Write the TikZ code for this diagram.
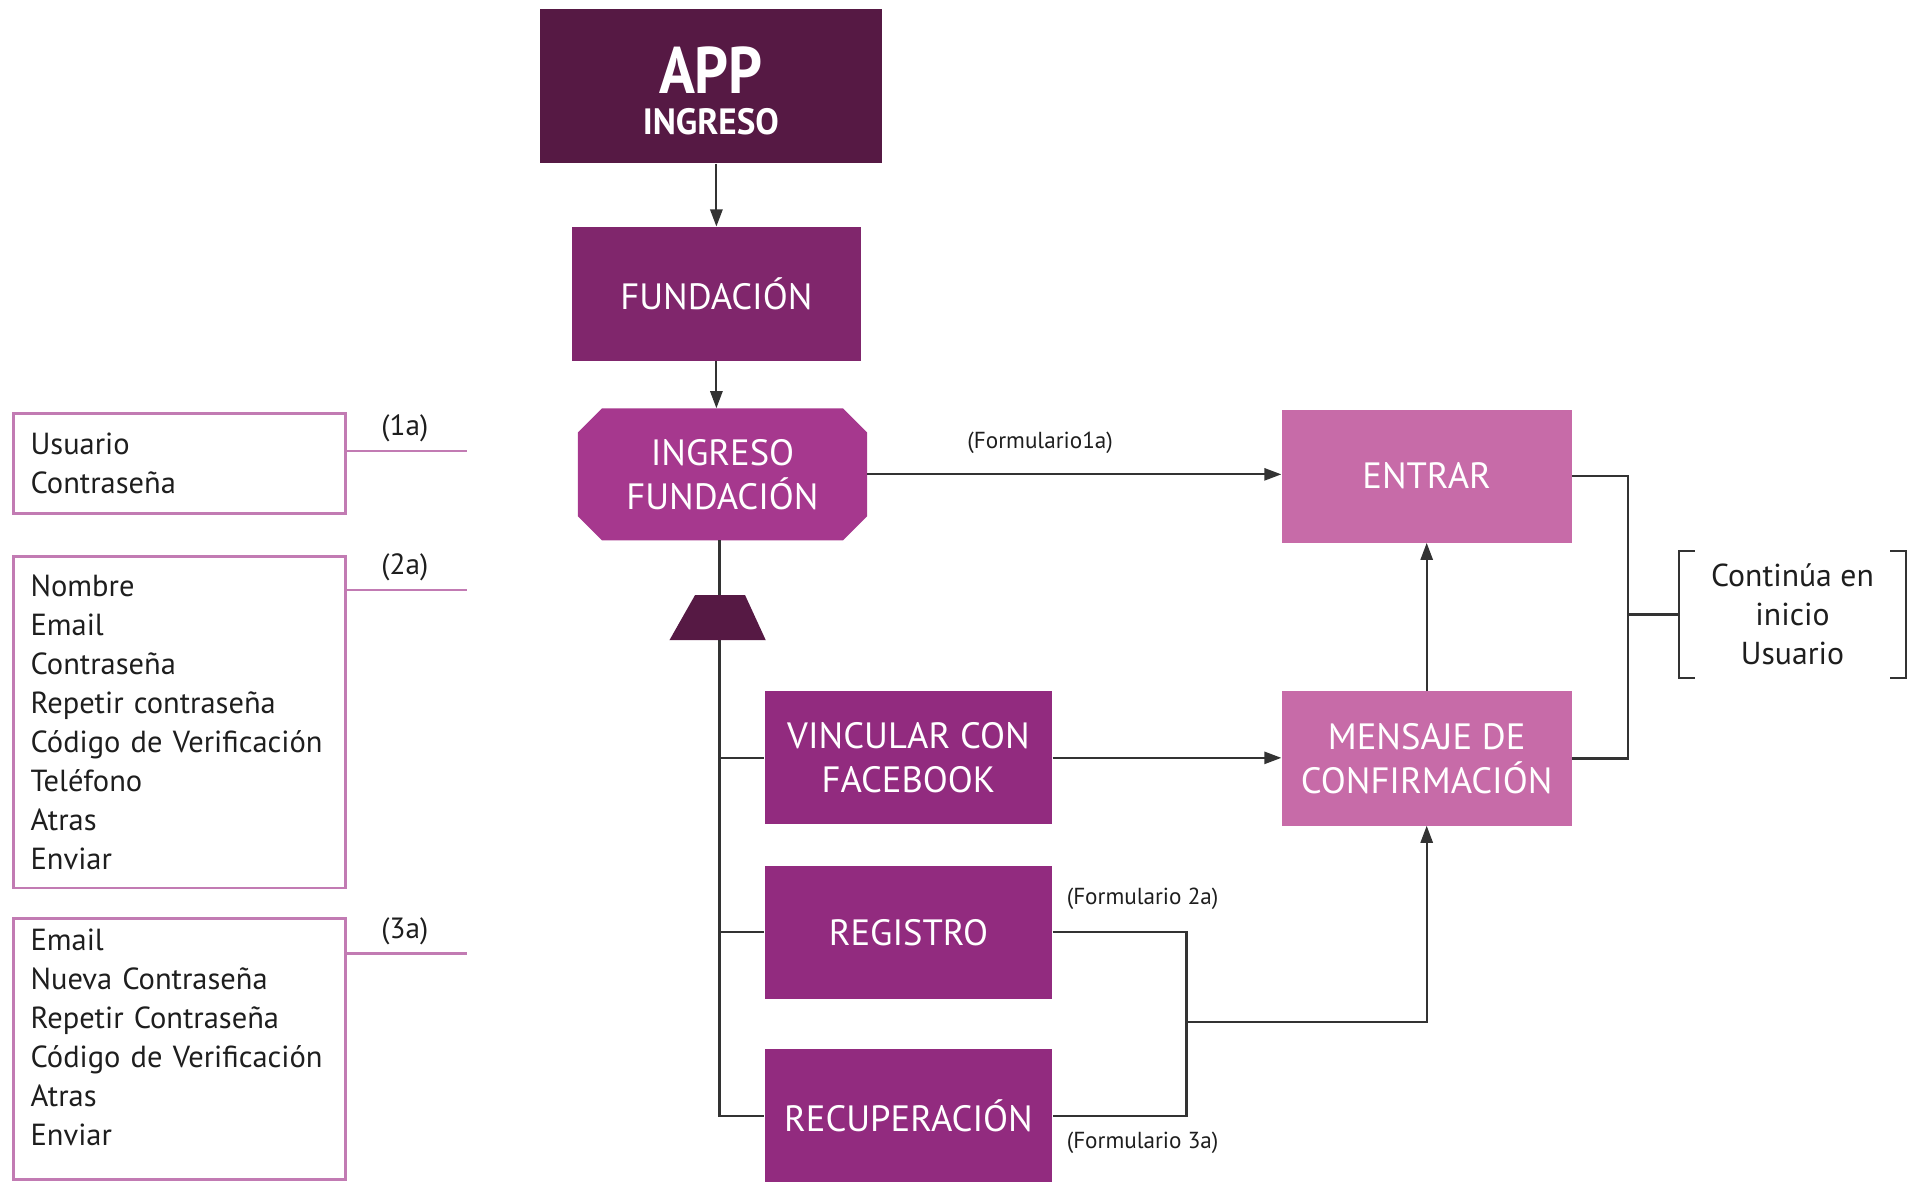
\documentclass[tikz,border=0pt]{standalone}
\usepackage{fontspec}
\setmainfont{PT Sans}
\usetikzlibrary{arrows.meta,calc}
\pgfdeclarelayer{background}
\pgfsetlayers{background,main}

\definecolor{plumdark}{HTML}{561944}
\definecolor{plumfund}{HTML}{80266C}
\definecolor{plumoct}{HTML}{A6388E}
\definecolor{plummid}{HTML}{922B7F}
\definecolor{plumlight}{HTML}{C76BA8}
\definecolor{formpink}{HTML}{C27BB3}
\definecolor{linegray}{HTML}{333333}
\definecolor{inkdark}{HTML}{1E1E1E}

\begin{document}
\begin{tikzpicture}[x=1pt,y=-1pt,
  box/.style={rectangle, inner sep=0pt, text=white, align=center,
    font=\fontsize{30}{36}\selectfont},
  flowbox/.style={box, minimum width=237pt, minimum height=109pt},
  conn/.style={draw=linegray, line width=1.8pt},
  arr/.style={conn, -{Triangle[length=14pt,width=10pt]}},
  formbox/.style={draw=formpink, line width=2.2pt, anchor=north west,
    inner xsep=14pt, inner ysep=0pt, text width=244pt, align=left,
    text=inkdark, font=\fontsize{25}{32}\selectfont},
  leader/.style={draw=formpink, line width=2pt},
  tag/.style={text=inkdark, font=\fontsize{24}{24}\selectfont},
  formlabel/.style={text=inkdark, font=\fontsize{19}{19}\selectfont}
]
\useasboundingbox (0,0) rectangle (1568,969);

% main flow boxes
\node[box, fill=plumdark, minimum width=280pt, minimum height=127pt, text height=80pt,
      font=\fontsize{30}{34}\selectfont\bfseries] (app) at (583,70.5)
  {\scalebox{0.9}[1]{\fontsize{54}{34}\selectfont APP}\\\scalebox{0.96}[1]{INGRESO}};
\node[flowbox, fill=plumfund, minimum height=110pt] (fund) at (587.5,241) {FUNDACIÓN};
\node[flowbox, minimum height=108pt] (ingf) at (592.5,389) {INGRESO\\FUNDACIÓN};
\node[flowbox, fill=plumlight, minimum width=238pt] (entrar) at (1170,390.5) {ENTRAR};
\node[flowbox, fill=plumlight, minimum width=238pt, minimum height=110pt] (mens) at (1170,622)
  {MENSAJE DE\\CONFIRMACIÓN};
\node[flowbox, fill=plummid, minimum width=236pt] (vinc) at (745,621.5) {VINCULAR CON\\FACEBOOK};
\node[flowbox, fill=plummid, minimum width=236pt] (reg) at (745,764.5) {REGISTRO};
\node[flowbox, fill=plummid, minimum width=236pt, minimum height=110pt] (rec) at (745,915) {RECUPERACIÓN};

% octagonal outline behind the login node
\begin{pgfonlayer}{background}
\fill[plumoct] ([xshift=20pt]ingf.north west) -- ([xshift=-20pt]ingf.north east)
  -- ([yshift=-20pt]ingf.north east) -- ([yshift=20pt]ingf.south east)
  -- ([xshift=-20pt]ingf.south east) -- ([xshift=20pt]ingf.south west)
  -- ([yshift=20pt]ingf.south west) -- ([yshift=-20pt]ingf.north west) -- cycle;
\end{pgfonlayer}

% continuation note with brackets
\node[text=inkdark, align=center, font=\fontsize{26}{32}\selectfont,
      minimum width=186pt, minimum height=104pt, inner sep=0pt] (cont) at (1470,504)
  {Continúa en\\inicio\\Usuario};
\draw[conn] ([xshift=13pt]cont.north west) -- (cont.north west) -- (cont.south west)
  -- ([xshift=13pt]cont.south west);
\draw[conn] ([xshift=-13pt]cont.north east) -- (cont.north east) -- (cont.south east)
  -- ([xshift=-13pt]cont.south east);

% form field boxes
\node[formbox, minimum height=82pt] (f1) at (10,338) {Usuario\\Contraseña};
\node[formbox, minimum height=272pt] (f2) at (10,455)
  {Nombre\\Email\\Contraseña\\Repetir contraseña\\Código de Verificación\\Teléfono\\Atras\\Enviar};
\node[formbox, minimum height=214pt] (f3) at (10,752)
  {Email\\Nueva Contraseña\\Repetir Contraseña\\Código de Verificación\\Atras\\Enviar\\[-22pt]\strut};

\coordinate (l1) at (383,370);
\coordinate (l2) at (383,484);
\coordinate (l3) at (383,782);
\draw[leader] (l1 -| f1.east) -- (l1);
\draw[leader] (l2 -| f2.east) -- (l2);
\draw[leader] (l3 -| f3.east) -- (l3);
\node[tag] (t1) at (332,351) {(1a)};
\node[tag] (t2) at (332,465) {(2a)};
\node[tag] (t3) at (332,764) {(3a)};

% connectors
\draw[arr] (fund.north |- app.south) -- (fund.north);
\draw[arr] (fund.south) -- (fund.south |- ingf.north);
\draw[arr] (ingf.east) -- (ingf.east -| entrar.west);
\node[formlabel] (fl1) at (853,363) {(Formulario1a)};
\draw[arr] (vinc.east) -- (vinc.east -| mens.west);
\draw[arr] (mens.north) -- (entrar.south);

% branch trunk below the login node
\coordinate (tk) at (590,915);
\draw[conn] (ingf.south -| tk) -- (tk) -- (rec.west);
\draw[conn] (tk |- vinc.west) -- (vinc.west);
\draw[conn] (tk |- reg.west) -- (reg.west);
\fill[plumdark] (570,488) -- (611,488) -- (628,525) -- (549,525) -- cycle;

% register / recovery merge into confirmation
\coordinate (jx) at (973,838);
\draw[conn] (reg.east) -- (reg.east -| jx) -- (rec.east -| jx) -- (rec.east);
\draw[arr] (jx) -- (jx -| mens.south) -- (mens.south);
\node[formlabel] (fl2) at (937,737) {(Formulario 2a)};
\node[formlabel] (fl3) at (937,937) {(Formulario 3a)};

% outputs to the continuation note
\coordinate (rx) at (1335,504);
\draw[conn] (entrar.east) -- (entrar.east -| rx) -- (mens.east -| rx) -- (mens.east);
\draw[conn] (rx) -- (cont.west);
\end{tikzpicture}
\end{document}
